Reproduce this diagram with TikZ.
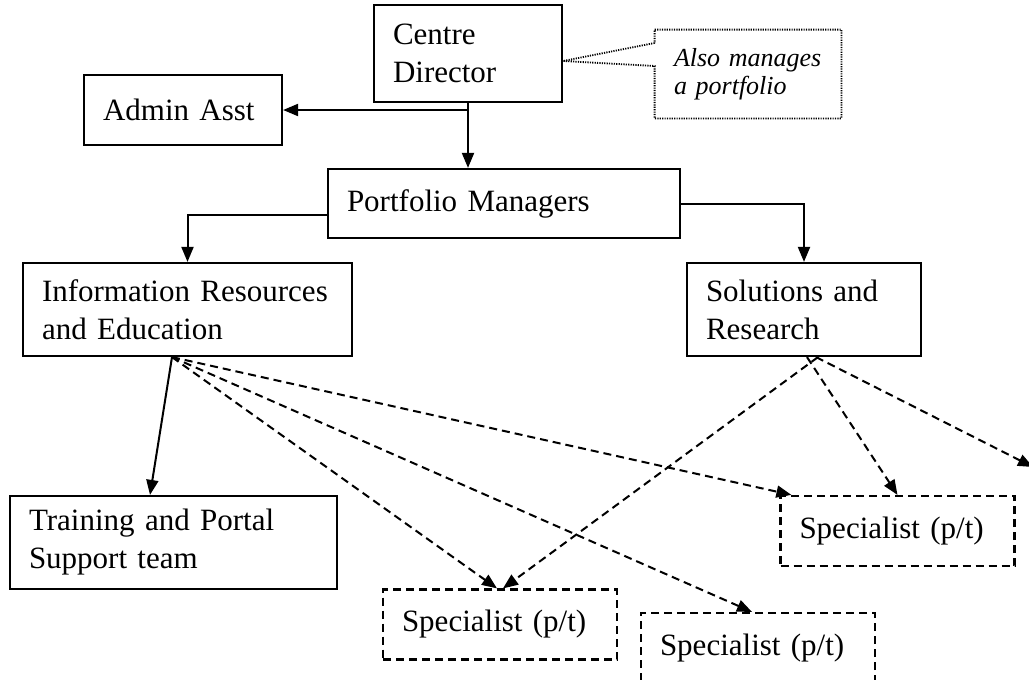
\documentclass[tikz,border=0pt]{standalone}
\usepackage{fontspec}
\setmainfont{Liberation Serif}
\usepackage{tikz}
\usetikzlibrary{arrows.meta}
\tikzset{
  block/.style={rectangle, draw=black, line width=1.1pt,
    inner xsep=9.5pt, inner ysep=0pt, align=left,
    font=\fontsize{15.5pt}{19pt}\selectfont},
  partbox/.style={block, dash pattern=on 4pt off 2.5pt},
  note/.style={rectangle, inner xsep=9.5pt, inner ysep=0pt, align=left,
    font=\fontsize{13pt}{14pt}\selectfont\itshape},
  noteline/.style={line width=0.9pt, dash pattern=on 0.6pt off 0.6pt},
  arrow/.style={-{Triangle[length=7.5pt, width=6pt]}, line width=1pt},
  dasharrow/.style={arrow, dash pattern=on 4pt off 2.5pt}
}

\begin{document}
\begin{tikzpicture}[x=0.5pt, y=-0.5pt]
  \useasboundingbox (0,0) rectangle (1029,680);

  % Top of the chart
  \node[block, text width=75pt, minimum height=48.5pt] (director) at (468,53.5) {Centre\\Director};
  \node[block, text width=80pt, minimum height=35pt] (admin) at (183,110) {Admin Asst};
  \node[note, text width=74pt, minimum height=44pt] (callout) at (748,74) {Also manages\\a portfolio};
  \node[block, text width=157pt, minimum height=34.5pt] (pm) at (504,203.5) {Portfolio Managers};

  % Portfolios
  \node[block, text width=145.5pt, minimum height=46.5pt] (ire) at (187.5,309.5) {Information Resources\\and Education};
  \node[block, text width=98pt, minimum height=46.5pt] (sr) at (804,309.5) {Solutions and\\Research};
  \node[block, text width=144.5pt, minimum height=46.5pt] (training) at (173.5,542.5) {Training and Portal\\Support team};

  % Part-time specialists
  \node[partbox, text width=98pt, minimum height=35pt] (specA) at (897.5,531) {Specialist (p/t)};
  \node[partbox, text width=98pt, minimum height=35pt] (specB) at (500,624.5) {Specialist (p/t)};
  \node[partbox, text width=98pt, minimum height=35pt] (specC) at (758,648) {Specialist (p/t)};

  % Callout outline with its pointer
  \coordinate (tip) at ([yshift=-3.75pt]director.east);
  \draw[noteline] ([yshift=15.5pt]callout.west) -- (tip) -- ([yshift=4pt]callout.west)
    -- (callout.south west) -- (callout.south east) -- (callout.north east)
    -- (callout.north west) -- cycle;

  % Reporting lines
  \draw[arrow] (director.south) -- (director.south |- pm.north);
  \draw[arrow] (director.south |- admin.east) -- (admin.east);
  \draw[arrow] ([yshift=-5.75pt]pm.west) -| (ire.north);
  \draw[arrow] (pm.east) -| (sr.north);

  \coordinate (ireout) at ([xshift=-7.75pt]ire.south);
  \coordinate (offright) at (1033,467);
  \draw[arrow] (ireout) -- ([xshift=-11.75pt]training.north);
  \draw[dasharrow] (ireout) -- ([xshift=6pt]specA.north west);
  \draw[dasharrow] (ireout) -- ([xshift=-1.5pt]specB.north);
  \draw[dasharrow] (ireout) -- ([xshift=-3pt]specC.north);
  \draw[dasharrow] ([xshift=7pt]sr.south) -- ([xshift=1.5pt]specB.north);
  \draw[dasharrow] ([xshift=1.5pt]sr.south) -- (specA.north);
  \draw[dasharrow] ([xshift=6pt]sr.south) -- (offright);
\end{tikzpicture}
\end{document}
